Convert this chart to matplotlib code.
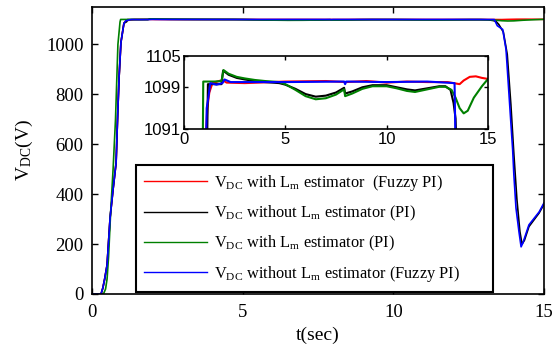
import numpy as np
import matplotlib
matplotlib.use('Agg')
import matplotlib.pyplot as plt
from matplotlib.lines import Line2D

plt.rcParams['font.family'] = ['Liberation Serif', 'DejaVu Serif']
plt.rcParams['mathtext.fontset'] = 'custom'
plt.rcParams['mathtext.rm'] = 'Liberation Serif'
plt.rcParams['mathtext.it'] = 'Liberation Serif:italic'

# ---- data ----
t_red = [0, 0.3, 0.36, 0.42, 0.5, 0.6, 0.7, 0.8, 0.85, 0.9, 0.96, 1.06, 1.1, 1.15, 1.25, 1.4,
         1.9, 2.1, 3.0, 5.0, 7.0, 8.0, 9.0, 10.0, 11.0, 12.0, 13.0, 13.3, 13.6, 13.8, 14.1,
         14.4, 14.7, 15.0]
v_red = [0, 0, 24, 60, 116, 305, 420, 526, 711, 872, 1008, 1085, 1091, 1095, 1098, 1099.8,
         1100.4, 1099.9, 1099.8, 1100.1, 1100.2, 1100.0, 1100.2, 1099.9, 1100.1, 1100.0, 1100.0,
         1099.8, 1099.6, 1100.3, 1101.0, 1101.1, 1100.8, 1100.6]

t_black = [0, 0.3, 0.36, 0.42, 0.5, 0.6, 0.7, 0.8, 0.85, 0.9, 0.96, 1.06, 1.15, 1.18, 1.85,
           1.93, 2.2, 2.6, 3.0, 3.5, 4.0, 4.7, 5.0, 5.5, 6.0, 6.5, 7.0, 7.5, 7.9, 7.95, 8.3,
           8.8, 9.3, 10.0, 10.5, 11.0, 11.4, 12.0, 12.6, 12.9, 13.15, 13.3, 13.4, 13.5, 13.65,
           13.78, 13.9, 14.0, 14.1, 14.2, 14.27, 14.35, 14.5, 14.84, 15.0]
v_black = [0, 0, 24, 60, 116, 305, 420, 526, 711, 872, 1008, 1085, 1091, 1099.6, 1099.6,
           1102.2, 1101.4, 1100.8, 1100.5, 1100.2, 1100.0, 1099.8, 1099.5, 1098.7, 1097.7,
           1097.2, 1097.4, 1098.0, 1098.9, 1097.8, 1098.2, 1099.0, 1099.4, 1099.4, 1099.0,
           1098.6, 1098.4, 1098.8, 1099.2, 1099.2, 1098.5, 1096, 1093, 1080, 1050, 960, 760,
           560, 380, 250, 200, 215, 270, 325, 360]

t_green = [0, 0.38, 0.45, 0.5, 0.55, 0.62, 0.7, 0.78, 0.86, 0.93, 0.95, 1.5, 1.85, 1.95, 2.2,
           2.6, 3.0, 3.5, 4.0, 4.7, 5.0, 5.5, 6.0, 6.5, 7.0, 7.5, 7.9, 7.95, 8.3, 8.8, 9.3,
           10.0, 10.5, 11.0, 11.4, 12.0, 12.6, 12.9, 13.2, 13.4, 13.6, 13.8, 14.0, 14.3, 14.7,
           15.0]
v_green = [0, 0, 20, 60, 150, 330, 500, 700, 1000, 1090, 1100.1, 1100.1, 1100.2, 1102.3,
           1101.6, 1101.0, 1100.7, 1100.4, 1100.2, 1100.0, 1099.6, 1098.5, 1097.3, 1096.7,
           1096.9, 1097.6, 1098.6, 1097.3, 1097.8, 1098.7, 1099.2, 1099.2, 1098.8, 1098.3,
           1098.1, 1098.6, 1099.1, 1099.1, 1098.5, 1097.0, 1095.0, 1094.0, 1094.5, 1097.0,
           1099.2, 1100.6]

t_blue = [0, 0.3, 0.36, 0.42, 0.5, 0.6, 0.7, 0.8, 0.85, 0.9, 0.96, 1.06, 1.1, 1.12, 1.2, 1.3,
          1.6, 1.9, 2.0, 2.3, 5.0, 7.9, 7.95, 8.0, 10.0, 12.0, 13.35, 13.45, 13.63, 13.74,
          13.85, 13.96, 14.0, 14.07, 14.17, 14.24, 14.3, 14.5, 14.84, 15.0]
v_blue = [0, 0, 24, 60, 116, 305, 420, 526, 711, 872, 1008, 1085, 1091, 1095, 1097, 1099.8,
          1099.5, 1099.8, 1100.5, 1100.0, 1100.0, 1100.1, 1099.6, 1100.1, 1100.0, 1100.1,
          1099.8, 1075, 1060, 980, 779, 578, 478, 345, 249, 189, 205, 277, 329, 365]

labels = [r'V$_{\mathrm{DC}}$ with L$_{\mathrm{m}}$ estimator  (Fuzzy PI)',
          r'V$_{\mathrm{DC}}$ without L$_{\mathrm{m}}$ estimator (PI)',
          r'V$_{\mathrm{DC}}$ with L$_{\mathrm{m}}$ estimator (PI)',
          r'V$_{\mathrm{DC}}$ without L$_{\mathrm{m}}$ estimator (Fuzzy PI)']
colors = ['#ff0000', '#000000', '#008000', '#0000ff']
series = [(t_red, v_red), (t_black, v_black), (t_green, v_green), (t_blue, v_blue)]

fig = plt.figure(figsize=(5.52, 3.49), dpi=100)
ax = fig.add_axes([92/552, 55/349, 452/552, 287/349])

for (t, v), c in zip(series, colors):
    ax.plot(t, v, color=c, lw=1.2)

ax.set_xlim(0, 15)
ax.set_ylim(0, 1150)
ax.set_xticks([0, 5, 10, 15])
ax.set_yticks([0, 200, 400, 600, 800, 1000])
ax.tick_params(direction='in', top=True, right=True, labelsize=13.5, length=4, width=1)
ax.tick_params(axis='x', pad=7)
ax.tick_params(axis='y', pad=6)
for s in ax.spines.values():
    s.set_linewidth(1.2)
ax.set_xlabel('t(sec)', fontsize=14, labelpad=4)
ax.set_ylabel(r'V$_{\mathrm{DC}}$(V)', fontsize=14, labelpad=8)

# inset
axi = fig.add_axes([184/552, 220/349, 304/552, 73/349])
for (t, v), c in zip(series, colors):
    axi.plot(t, v, color=c, lw=1.5)
axi.set_xlim(0, 15)
axi.set_ylim(1091, 1105)
axi.set_xticks([0, 5, 10, 15])
axi.set_yticks([1091, 1099, 1105])
axi.tick_params(direction='in', top=True, right=True, labelsize=12, length=3, width=1, pad=2)
for lab in axi.get_xticklabels() + axi.get_yticklabels():
    lab.set_family('Liberation Sans')
for s in axi.spines.values():
    s.set_linewidth(1.2)

handles = [Line2D([], [], color=c, lw=1) for c in colors]
leg = fig.legend(handles, labels, loc='lower left',
                 bbox_to_anchor=(136/552, 57/349, 357/552, 128/349),
                 bbox_transform=fig.transFigure, mode='expand', borderaxespad=0,
                 fontsize=11.8, handlelength=3.85, handletextpad=0.42, borderpad=0.5,
                 labelspacing=0.66, fancybox=False, framealpha=1, edgecolor='black')
leg.get_frame().set_linewidth(1.5)

fig.savefig('out.png', dpi=100)
